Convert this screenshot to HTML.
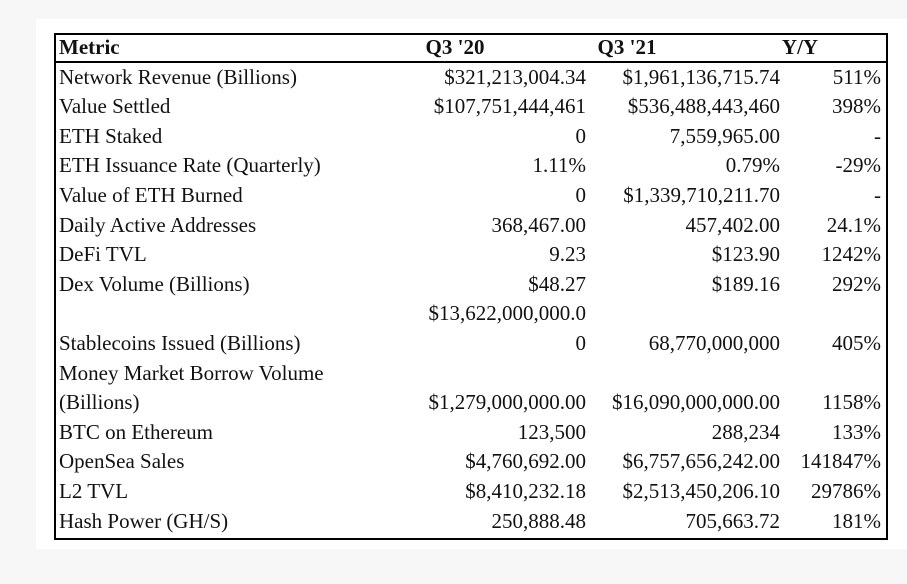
<!DOCTYPE html>
<html><head><meta charset="utf-8"><style>
body{margin:0;width:907px;height:584px;background:#f7f7f7;position:relative;overflow:hidden;font-family:"Liberation Serif","DejaVu Serif","Times New Roman",Times,serif;font-size:21px;color:#111}
#card{position:absolute;left:36px;top:19px;width:871px;height:530px;background:#fff}
#tbl{position:absolute;left:54px;top:33px;width:830px;height:503px;border:2px solid #000}
#hline{position:absolute;left:54px;top:61px;width:834px;height:2px;background:#000}
.c{position:absolute;height:30px;line-height:30px;white-space:nowrap;font-family:"Liberation Serif","DejaVu Serif",serif}
.m{left:59px}
.a{right:321px}
.b{right:127px}
.y{right:26px}
.h{font-weight:bold}
</style></head><body>
<div id="card"></div>
<div id="tbl"></div>
<div id="hline"></div>
<div id="rows"></div>
<script>
const lines = [
 ["Metric","Q3 '20","Q3 '21","Y/Y"],
 ["Network Revenue (Billions)","$321,213,004.34","$1,961,136,715.74","511%"],
 ["Value Settled","$107,751,444,461","$536,488,443,460","398%"],
 ["ETH Staked","0","7,559,965.00","-"],
 ["ETH Issuance Rate (Quarterly)","1.11%","0.79%","-29%"],
 ["Value of ETH Burned","0","$1,339,710,211.70","-"],
 ["Daily Active Addresses","368,467.00","457,402.00","24.1%"],
 ["DeFi TVL","9.23","$123.90","1242%"],
 ["Dex Volume (Billions)","$48.27","$189.16","292%"],
 ["","$13,622,000,000.0","",""],
 ["Stablecoins Issued (Billions)","0","68,770,000,000","405%"],
 ["Money Market Borrow Volume","","",""],
 ["(Billions)","$1,279,000,000.00","$16,090,000,000.00","1158%"],
 ["BTC on Ethereum","123,500","288,234","133%"],
 ["OpenSea Sales","$4,760,692.00","$6,757,656,242.00","141847%"],
 ["L2 TVL","$8,410,232.18","$2,513,450,206.10","29786%"],
 ["Hash Power (GH/S)","250,888.48","705,663.72","181%"]
];
const root=document.getElementById('rows');
lines.forEach((r,i)=>{
  const top=47+29.6*i-15;
  r.forEach((t,j)=>{
    if(!t) return;
    const d=document.createElement('div');
    
    
    d.className='c '+['m','a','b','y'][j]+(i===0?' h':'');
    d.style.top=top+'px';
    if(i===0&&j>0){d.style.right='auto';d.style.textAlign='center';d.style.left=[0,410,580,770][j]+'px';d.style.width=[0,90,94,60][j]+'px';}
    d.textContent=t;
    root.appendChild(d);
  });
});
</script>
</body></html>
